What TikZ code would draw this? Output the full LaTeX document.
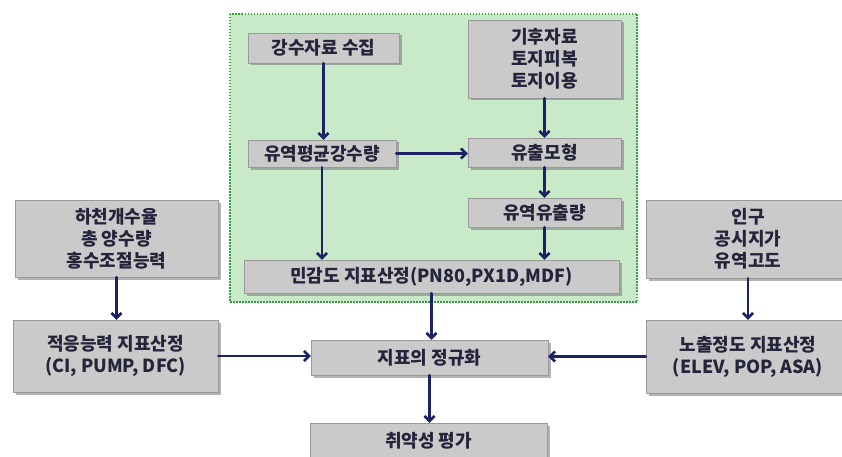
\documentclass[tikz,border=0pt]{standalone}
\usepackage{fontspec}
\setmainfont{Noto Sans CJK KR}
\usetikzlibrary{arrows.meta,shadows}
\definecolor{hopxam}{RGB}{202,202,202}
\definecolor{nenxanh}{RGB}{200,234,200}
\definecolor{vienxanh}{RGB}{50,160,60}
\definecolor{muiten}{RGB}{28,34,100}
\definecolor{chu}{RGB}{36,36,58}
\begin{document}
\begin{tikzpicture}[x=1pt,y=-1pt,>={Straight Barb[length=5pt,width=10pt]},line join=round,line cap=round,
	font=\fontsize{18}{22}\selectfont\bfseries,
	hop/.style={draw=black!40,fill=hopxam,inner sep=0pt,align=center,text=chu,
		drop shadow={shadow xshift=2.5pt,shadow yshift=-2.5pt,fill=black!50,opacity=.6}},
	mui/.style={->,draw=muiten,line width=2.6pt}]
	\useasboundingbox (0,0) rectangle (842,457);
	\clip (0,0) rectangle (842,457);
	% vung mau xanh
	\draw[fill=nenxanh,draw=vienxanh,line cap=butt,dash pattern=on 1.5pt off 1.5pt,line width=2pt] (230,14) rectangle (637,302);
	\node[hop,minimum width=151pt,minimum height=30pt] (rain) at (323.5,48) {강수자료 수집};
	\node[hop,minimum width=153pt,minimum height=78pt] (climate) at (544.5,59) {기후자료\\토지피복\\토지이용};
	\node[hop,minimum width=148pt,minimum height=27pt] (avgrain) at (322,153.5) {유역평균강수량};
	\node[hop,minimum width=153pt,minimum height=29pt] (model) at (544.5,152.5) {유출모형};
	\node[hop,minimum width=153pt,minimum height=29pt] (runoff) at (544.5,212.5) {유역유출량};
	\node[hop,minimum width=375pt,minimum height=33pt] (sens) at (431.5,276.5) {민감도 지표산정(PN80,PX1D,MDF)};
	% hai ben
	\node[hop,minimum width=203pt,minimum height=77pt] (river) at (116.5,238.5) {하천개수율\\총 양수량\\홍수조절능력};
	\node[hop,minimum width=205pt,minimum height=72pt] (adapt) at (115.5,356) {적응능력 지표산정\\(CI, PUMP, DFC)};
	\node[hop,minimum width=204pt,minimum height=78pt] (pop) at (748,239) {인구\\공시지가\\유역고도};
	\node[hop,minimum width=204pt,minimum height=73pt] (expo) at (748,356.5) {노출정도 지표산정\\(ELEV, POP, ASA)};
	% duoi
	\node[hop,minimum width=237pt,minimum height=35pt] (norm) at (429.5,357.5) {지표의 정규화};
	\node[hop,minimum width=237pt,minimum height=36pt] (vuln) at (428.5,441) {취약성 평가};
	\foreach \a/\b in {rain/avgrain,climate/model,model/runoff,runoff/sens,avgrain/sens,sens/norm,river/adapt,pop/expo,norm/vuln}
		\draw[mui] (\a.south) -- (\a.south |- \b.north);
	\draw[mui] (avgrain.east) -- (avgrain.east -| model.west);
	\draw[mui] (adapt.east) -- (adapt.east -| norm.west);
	\draw[mui] (expo.west) -- (expo.west -| norm.east);
\end{tikzpicture}
\end{document}
